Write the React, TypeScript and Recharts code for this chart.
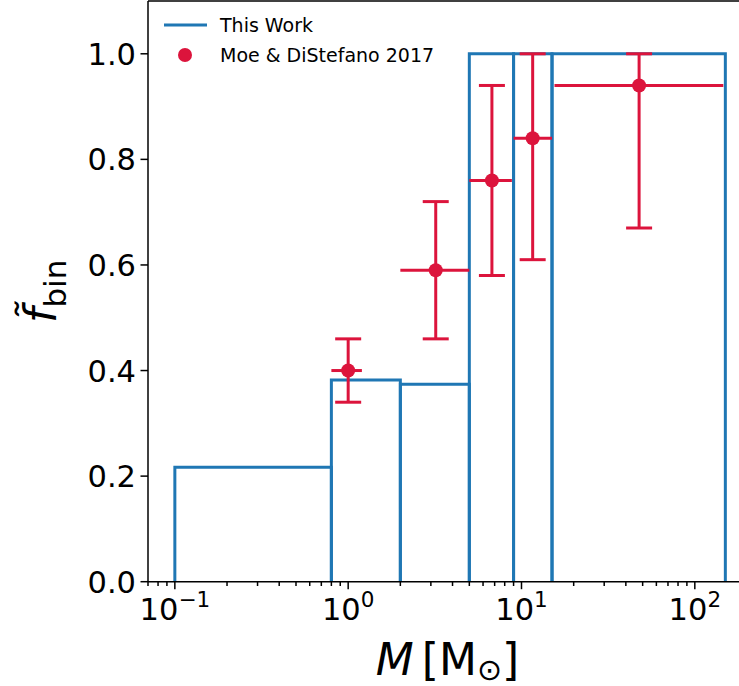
import {
  ComposedChart, Line, Scatter, ErrorBar, XAxis, YAxis,
  ReferenceLine, Legend
} from 'recharts'

// Binary fraction vs primary mass.
// Step outline = this work, crimson points = Moe & DiStefano (2017).

const BLUE = '#1f77b4'
const RED = '#dc143c'
const FONT = '"DejaVu Sans", Verdana, sans-serif'

// histogram bins (this work)
const binEdges = [0.1, 0.8, 2, 5, 9, 15, 150]
const binFrac = [0.217, 0.382, 0.374, 1.0, 1.0, 1.0]

// Moe & DiStefano 2017 points
const moeMass = [1.0, 3.2, 6.75, 11.6, 47.7]
const moeMassLo = [0.8, 2.0, 5.0, 9.0, 15.5]
const moeMassHi = [1.2, 5.0, 8.8, 15.0, 146]
const moeFrac = [0.40, 0.59, 0.76, 0.84, 0.94]
const moeFracLo = [0.34, 0.46, 0.58, 0.61, 0.67]
const moeFracHi = [0.46, 0.72, 0.94, 1.0, 1.0]

// axes
const xDomain = [0.07, 200]
const yDomain = [0, 1.1]
const majorTicks = [0.1, 1, 10, 100]
const majorExp = ['\u22121', '0', '1', '2']
const minorMult = [2, 3, 4, 5, 6, 7, 8, 9]
const yTicks = [0, 0.2, 0.4, 0.6, 0.8, 1.0]

const xTicks = [0.07, 0.08, 0.09]
majorTicks.forEach(m => {
  xTicks.push(m)
  minorMult.forEach(k => xTicks.push(m * k))
})

// each bin drawn as an open rectangle (left edge, top, right edge)
const binOutlines = binFrac.map((h, i) => [
  { x: binEdges[i], y: 0 },
  { x: binEdges[i], y: h },
  { x: binEdges[i + 1], y: h },
  { x: binEdges[i + 1], y: 0 },
])

const moeData = moeMass.map((m, i) => ({
  x: m,
  y: moeFrac[i],
  ex: [m - moeMassLo[i], moeMassHi[i] - m],
  ey: [moeFrac[i] - moeFracLo[i], moeFracHi[i] - moeFrac[i]],
}))

function MassTick({ x, y, payload }: any) {
  const i = majorTicks.indexOf(payload.value)
  const major = i >= 0
  return (
    <g>
      <line x1={x} x2={x} y1={y} y2={y + (major ? 7.5 : 4.3)} stroke="#000" strokeWidth={1.5} />
      {major && (
        <text x={x} y={y + 38} textAnchor="middle" fontSize={30.5} fontFamily={FONT} fill="#000">
          10<tspan dy={-13} fontSize={21.5}>{majorExp[i]}</tspan>
        </text>
      )}
    </g>
  )
}

function FracTick({ x, y, payload }: any) {
  return (
    <g>
      <line x1={x - 7.5} x2={x} y1={y} y2={y} stroke="#000" strokeWidth={1.5} />
      <text x={x - 12} y={y + 11} textAnchor="end" fontSize={30.5} fontFamily={FONT} fill="#000">
        {payload.value.toFixed(1)}
      </text>
    </g>
  )
}

function MassLabel({ viewBox }: any) {
  const cx = viewBox.x + viewBox.width / 2
  return (
    <text x={cx} y={675} textAnchor="middle" fontSize={44} fontFamily={FONT} fill="#000">
      <tspan fontStyle="italic">M</tspan>
      <tspan dx={8}>[M</tspan>
      <tspan dy={5} fontSize={30}>{'\u2299'}</tspan>
      <tspan dy={-5}>]</tspan>
    </text>
  )
}

function FracLabel({ viewBox }: any) {
  const cy = viewBox.y + viewBox.height / 2
  const cx = 56
  return (
    <text transform={`rotate(-90 ${cx} ${cy})`} x={cx} y={cy} textAnchor="middle"
      fontSize={44} fontFamily={FONT} fill="#000">
      <tspan fontStyle="italic">{'f\u0303'}</tspan>
      <tspan dy={10} fontSize={31}>bin</tspan>
    </text>
  )
}

function LegendBox() {
  return (
    <svg width={340} height={74} style={{ display: 'block' }}>
      <line x1={14} x2={57} y1={19} y2={19} stroke={BLUE} strokeWidth={3} />
      <text x={70} y={26} fontSize={19} fontFamily={FONT} fill="#000">This Work</text>
      <circle cx={35} cy={49} r={7} fill={RED} />
      <text x={70} y={56} fontSize={19} fontFamily={FONT} fill="#000">Moe &amp; DiStefano 2017</text>
    </svg>
  )
}

function Dot({ cx, cy }: any) {
  return <circle cx={cx} cy={cy} r={7} fill={RED} />
}

export default function App() {
  return (
    <div style={{ position: 'absolute', left: 0, top: 0, width: 739, height: 686, overflow: 'hidden', background: '#fff' }}>
      <ComposedChart width={760} height={686} margin={{ top: 1, right: 13, bottom: 0, left: 0 }}>
        <XAxis
          dataKey="x"
          type="number"
          scale="log"
          domain={xDomain}
          allowDataOverflow
          ticks={xTicks}
          interval={0}
          tick={<MassTick />}
          tickLine={false}
          tickSize={0}
          tickMargin={0}
          height={104.3}
          axisLine={{ stroke: '#000', strokeWidth: 1.5 }}
          label={<MassLabel />}
        />
        <YAxis
          dataKey="y"
          type="number"
          domain={yDomain}
          allowDataOverflow
          ticks={yTicks}
          interval={0}
          tick={<FracTick />}
          tickLine={false}
          tickSize={0}
          tickMargin={0}
          width={148}
          axisLine={{ stroke: '#000', strokeWidth: 1.5 }}
          label={<FracLabel />}
        />
        <ReferenceLine y={yDomain[1]} stroke="#000" strokeWidth={1.5} />
        <ReferenceLine x={xDomain[1]} stroke="#000" strokeWidth={1.5} />
        {binOutlines.map((pts, i) => (
          <Line
            key={i}
            data={pts}
            dataKey="y"
            type="linear"
            stroke={BLUE}
            strokeWidth={3}
            dot={false}
            activeDot={false}
            isAnimationActive={false}
            legendType="none"
          />
        ))}
        <Scatter data={moeData} dataKey="y" shape={<Dot />} isAnimationActive={false}>
          <ErrorBar dataKey="ey" direction="y" width={13} stroke={RED} strokeWidth={3} isAnimationActive={false} />
          <ErrorBar dataKey="ex" direction="x" width={0} stroke={RED} strokeWidth={3} isAnimationActive={false} />
        </Scatter>
        <Legend
          layout="vertical"
          align="center"
          verticalAlign="middle"
          wrapperStyle={{ left: 150, top: 6, width: 340, height: 74 }}
          content={() => <LegendBox />}
        />
      </ComposedChart>
    </div>
  )
}
